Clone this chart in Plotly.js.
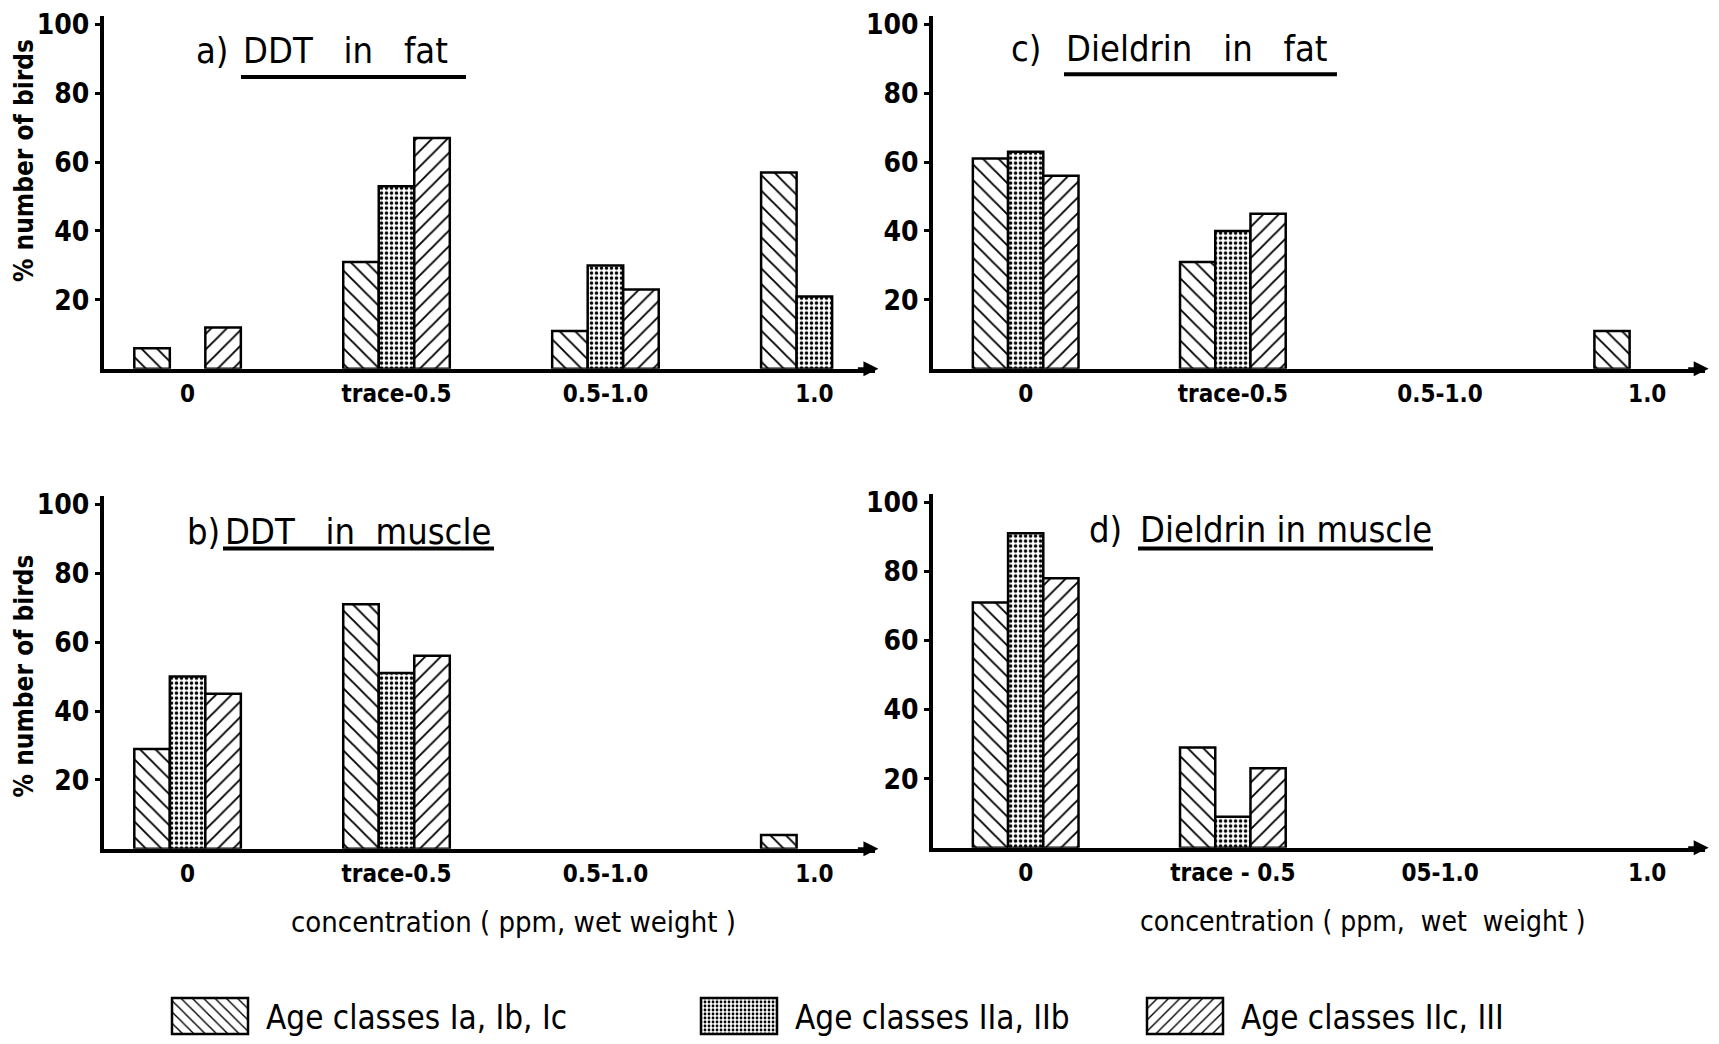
<!DOCTYPE html>
<html><head><meta charset="utf-8">
<script src="https://cdn.plot.ly/plotly-3.0.1.min.js"></script>
<style>html,body{margin:0;padding:0;background:#fff;}</style>
</head><body>
<div id="chart" style="width:1719px;height:1044px;"></div>
<script>
// ---------- data ----------
const categories = ['0', 'trace-0.5', '0.5-1.0', '1.0'];
const seriesNames = ['Age classes Ia, Ib, Ic', 'Age classes IIa, IIb', 'Age classes IIc, III'];

// a) DDT in fat
const ddtFatIa   = [6, 31, 11, 57];
const ddtFatIIab = [null, 53, 30, 21];
const ddtFatIIc  = [12, 67, 23, null];
// b) DDT in muscle
const ddtMuscleIa   = [29, 71, null, 4];
const ddtMuscleIIab = [50, 51, null, null];
const ddtMuscleIIc  = [45, 56, null, null];
// c) Dieldrin in fat
const dieFatIa   = [61, 31, null, 11];
const dieFatIIab = [63, 40, null, null];
const dieFatIIc  = [56, 45, null, null];
// d) Dieldrin in muscle
const dieMuscleIa   = [71, 29, null, null];
const dieMuscleIIab = [91, 9, null, null];
const dieMuscleIIc  = [78, 23, null, null];

const tickLabelsA = ['0', 'trace-0.5', '0.5-1.0', '1.0'];
const tickLabelsB = ['0', 'trace-0.5', '0.5-1.0', '1.0'];
const tickLabelsC = ['0', 'trace-0.5', '0.5-1.0', '1.0'];
const tickLabelsD = ['0', 'trace - 0.5', '05-1.0', '1.0'];
const yTicks = [20, 40, 60, 80, 100];

// ---------- styling ----------
const FONT = "'DejaVu Sans Condensed', 'Liberation Sans Narrow', 'DejaVu Sans', sans-serif";
const patShapes = ['\\', '.', '/'];
const patSizes = [11, 5, 11];
const patSolid = [0.17, 0.38, 0.17];
const legendIds = ['legend', 'legend2', 'legend3'];

const panels = [
  {vals: [ddtFatIa, ddtFatIIab, ddtFatIIc], xa: 'x', ya: 'y'},
  {vals: [ddtMuscleIa, ddtMuscleIIab, ddtMuscleIIc], xa: 'x2', ya: 'y2'},
  {vals: [dieFatIa, dieFatIIab, dieFatIIc], xa: 'x3', ya: 'y3'},
  {vals: [dieMuscleIa, dieMuscleIIab, dieMuscleIIc], xa: 'x4', ya: 'y4'}
];

const traces = [];
panels.forEach((p, pi) => {
  p.vals.forEach((v, si) => {
    traces.push({
      type: 'bar',
      x: categories,
      y: v,
      name: seriesNames[si],
      xaxis: p.xa, yaxis: p.ya,
      offsetgroup: String(si),
      showlegend: pi === 0,
      legend: legendIds[si],
      marker: {
        color: 'white',
        line: {color: 'black', width: 2.5},
        pattern: {shape: patShapes[si], size: patSizes[si], solidity: patSolid[si],
                  fgcolor: 'black', bgcolor: 'white', fillmode: 'replace'}
      },
      hoverinfo: 'skip'
    });
  });
});

function xAxis(domain, range, ticktext, anchor) {
  return {
    domain: domain, anchor: anchor, type: 'category', range: range,
    showline: true, linecolor: 'black', linewidth: 4,
    showgrid: false, zeroline: false, ticks: '',
    tickmode: 'array', tickvals: categories, ticktext: ticktext,
    tickfont: {family: FONT, size: 24, color: 'black', weight: 'bold'},
    fixedrange: true
  };
}
function yAxis(domain, anchor) {
  return {
    domain: domain, anchor: anchor, range: [0, 102.5],
    showline: true, linecolor: 'black', linewidth: 4,
    showgrid: false, zeroline: false,
    ticks: 'outside', ticklen: 5, tickwidth: 3, tickcolor: 'black',
    tickmode: 'array', tickvals: yTicks,
    tickfont: {family: FONT, size: 28, color: 'black', weight: 'bold'},
    fixedrange: true
  };
}

const rangeL = [-0.40, 3.29];
const rangeR = [-0.447, 3.28];
const domXL = [0.0605, 0.509];
const domXR = [0.5428, 0.992];
const domYTop = [0.645, 0.985];
const domYBotL = [0.183, 0.523];
const domYBotR = [0.184, 0.525];

function titleAnn(x, y, txt) {
  return {xref: 'paper', yref: 'paper', x: x, y: y, xanchor: 'left', yanchor: 'middle',
          text: txt, showarrow: false, font: {family: FONT, size: 36, color: 'black'}};
}
function arrowAnn(x, y) {
  return {xref: 'paper', yref: 'paper', x: x, y: y, ax: -22, ay: 0, text: '',
          showarrow: true, arrowhead: 2, arrowsize: 1, arrowwidth: 3, arrowcolor: 'black'};
}
function uline(x0, x1, y) {
  return {type: 'line', xref: 'paper', yref: 'paper', x0: x0, x1: x1, y0: y, y1: y,
          line: {color: 'black', width: 4}};
}
function centerAnn(x, y, txt, size, bold, angle) {
  return {xref: 'paper', yref: 'paper', x: x, y: y, xanchor: 'center', yanchor: 'middle',
          textangle: angle || 0, text: txt, showarrow: false,
          font: {family: FONT, size: size, color: 'black', weight: bold ? 'bold' : 'normal'}};
}

const annotations = [
  titleAnn(193.6/1719, 0.951, 'a)'), titleAnn(241/1719, 0.951, 'DDT\u00a0\u00a0 in\u00a0\u00a0 fat'),
  titleAnn(185/1719, 0.4885, 'b)'), titleAnn(223/1719, 0.4885, 'DDT\u00a0\u00a0 in\u00a0 muscle'),
  titleAnn(1009/1719, 0.953, 'c)'), titleAnn(1064/1719, 0.953, 'Dieldrin\u00a0\u00a0 in\u00a0\u00a0 fat'),
  titleAnn(1087/1719, 0.4904, 'd)'), titleAnn(1138/1719, 0.4904, 'Dieldrin in muscle'),
  centerAnn(24/1719, 0.845, '% number of birds', 26, true, -90),
  centerAnn(24/1719, 0.349, '% number of birds', 26, true, -90),
  centerAnn(513/1719, 1 - 926/1044, 'concentration ( ppm, wet weight )', 29, false, 0),
  centerAnn(1363/1719, 1 - 926/1044, 'concentration ( ppm,\u00a0 wet\u00a0 weight )', 28, false, 0),
  arrowAnn(0.511, 0.645), arrowAnn(0.511, 0.183),
  arrowAnn(0.994, 0.645), arrowAnn(0.994, 0.184)
];

const shapes = [
  uline(241/1719, 466/1719, 0.926),
  uline(223/1719, 494/1719, 0.472),
  uline(1064/1719, 1337/1719, 0.9286),
  uline(1138/1719, 1433/1719, 0.472)
];

function legendBox(x) {
  return {x: x, y: 0.022, xanchor: 'left', yanchor: 'middle', orientation: 'h',
          bgcolor: 'rgba(0,0,0,0)', borderwidth: 0, itemwidth: 102,
          font: {family: FONT, size: 33, color: 'black'}};
}

const layout = {
  width: 1719, height: 1044,
  margin: {l: 0, r: 0, t: 0, b: 0},
  paper_bgcolor: 'white', plot_bgcolor: 'rgba(0,0,0,0)',
  barmode: 'group', bargap: 0.49, bargroupgap: 0,
  showlegend: true,
  legend: legendBox(154/1719),
  legend2: legendBox(683/1719),
  legend3: legendBox(1129/1719),
  xaxis: xAxis(domXL, rangeL, tickLabelsA, 'y'),
  yaxis: yAxis(domYTop, 'x'),
  xaxis2: xAxis(domXL, rangeL, tickLabelsB, 'y2'),
  yaxis2: yAxis(domYBotL, 'x2'),
  xaxis3: xAxis(domXR, rangeR, tickLabelsC, 'y3'),
  yaxis3: yAxis(domYTop, 'x3'),
  xaxis4: xAxis(domXR, rangeR, tickLabelsD, 'y4'),
  yaxis4: yAxis(domYBotR, 'x4'),
  annotations: annotations,
  shapes: shapes,
  hovermode: false
};

function enlargeSwatches() {
  document.querySelectorAll('#chart g.legendpoints path').forEach(function (p) {
    p.setAttribute('d', 'M38,18H-38V-18H38Z');
  });
}

Plotly.newPlot('chart', traces, layout, {staticPlot: true, displayModeBar: false}).then(function () {
  enlargeSwatches();
  setTimeout(enlargeSwatches, 50);
});
</script>
</body></html>
